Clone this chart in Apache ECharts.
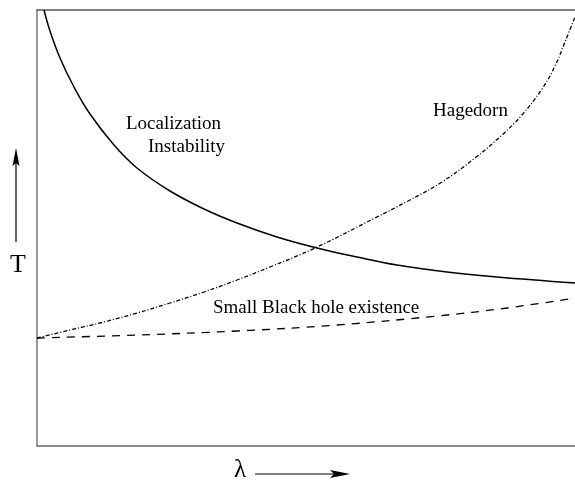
<!DOCTYPE html>
<html>
<head>
<meta charset="utf-8">
<script src="https://cdn.jsdelivr.net/npm/echarts@6/dist/echarts.min.js"></script>
<style>
  html, body { margin: 0; padding: 0; background: #fff; }
  #chart { width: 575px; height: 481px; }
</style>
</head>
<body>
<div id="chart"></div>
<script>
// values (arbitrary units, lambda -> x, T -> y)
var locX = [7, 13, 23, 37, 53, 77, 100, 133, 167, 200, 240, 280, 320, 360, 410, 460, 538];
var locY = [436, 415, 388, 359, 332, 301, 278, 255, 237, 223, 209, 198, 189, 181, 174, 169, 163];

var hagX = [0, 33, 67, 100, 133, 167, 200, 233, 278, 338, 371, 405, 438, 465, 485, 505, 518, 528, 538];
var hagY = [108, 116, 124, 133, 143, 154, 166, 179, 198, 228, 245, 264, 288, 311, 331, 357, 380, 404, 429];

var bhX = [0, 100, 200, 300, 400, 470, 538];
var bhY = [108, 111, 115, 121, 130, 138, 148];

var xMax = 538, yMax = 436;

function pairs(xs, ys) {
  var out = [];
  for (var i = 0; i < xs.length; i++) out.push([xs[i], ys[i]]);
  return out;
}

var serif = '"Liberation Serif", "DejaVu Serif", serif';

var chart = echarts.init(document.getElementById('chart'));

var option = {
  animation: false,
  grid: { left: 37, right: 0, top: 10, bottom: 35 },
  xAxis: [{
    type: 'value', min: 0, max: xMax,
    axisLine: { show: true, onZero: false, lineStyle: { color: '#666', width: 1.5 } },
    axisTick: { show: false }, axisLabel: { show: false }, splitLine: { show: false }
  }, {
    type: 'value', min: 0, max: xMax, position: 'top',
    axisLine: { show: true, onZero: false, lineStyle: { color: '#555', width: 1.5 } },
    axisTick: { show: false }, axisLabel: { show: false }, splitLine: { show: false }
  }],
  yAxis: {
    type: 'value', min: 0, max: yMax,
    axisLine: { show: true, onZero: false, lineStyle: { color: '#777', width: 1.5 } },
    axisTick: { show: false }, axisLabel: { show: false }, splitLine: { show: false }
  },
  series: [{
    name: 'Localization Instability',
    type: 'line', showSymbol: false, smooth: 0.4,
    lineStyle: { color: '#000', width: 1.5 },
    data: pairs(locX, locY)
  }, {
    name: 'Hagedorn',
    type: 'line', showSymbol: false, smooth: 0.4,
    lineStyle: { color: '#000', width: 1.3, type: [4, 2, 1, 2] },
    data: pairs(hagX, hagY)
  }, {
    name: 'Small Black hole existence',
    type: 'line', showSymbol: false, smooth: 0.4,
    lineStyle: { color: '#000', width: 1.3, type: [8, 7] },
    data: pairs(bhX, bhY)
  }],
  graphic: [
    { type: 'text', left: 126, top: 115, style: { text: 'Localization', font: '19px ' + serif, fill: '#000' } },
    { type: 'text', left: 148, top: 138, style: { text: 'Instability', font: '19px ' + serif, fill: '#000' } },
    { type: 'text', left: 433, top: 102, style: { text: 'Hagedorn', font: '19px ' + serif, fill: '#000' } },
    { type: 'text', left: 213, top: 299, style: { text: 'Small Black hole existence', font: '19px ' + serif, fill: '#000' } },
    { type: 'text', left: 10, top: 252, style: { text: 'T', font: '26px ' + serif, fill: '#000' } },
    { type: 'text', left: 234, top: 458, style: { text: 'λ', font: '25px ' + serif, fill: '#000' } },
    // T arrow
    { type: 'line', shape: { x1: 16, y1: 242, x2: 16, y2: 160 }, style: { stroke: '#000', lineWidth: 1.2 } },
    { type: 'polygon', shape: { points: [[16, 148], [12.5, 166], [16, 163], [19.5, 166]] }, style: { fill: '#000' } },
    // lambda arrow
    { type: 'line', shape: { x1: 255, y1: 474, x2: 340, y2: 474 }, style: { stroke: '#000', lineWidth: 1.2 } },
    { type: 'polygon', shape: { points: [[350, 474], [330, 470], [334, 474], [330, 478]] }, style: { fill: '#000' } }
  ]
};

chart.setOption(option);
</script>
</body>
</html>
